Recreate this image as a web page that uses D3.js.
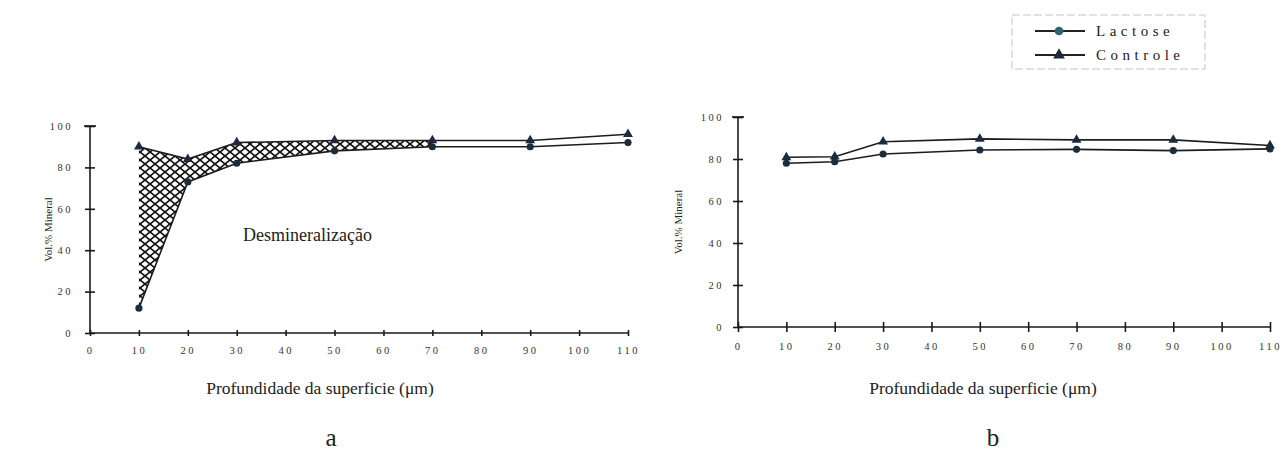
<!DOCTYPE html>
<html lang="pt">
<head>
<meta charset="UTF-8" />
<title>Vol % Mineral</title>
<style>
  body { margin: 0; background: #fff; }
  text { font-family: "Liberation Serif", "DejaVu Serif", serif; fill: #222; }
  .tick text { font-size: 10.5px; letter-spacing: 2.5px; fill: #333; }
  .axis path, .axis line { stroke: #1a1a1a; stroke-width: 1.6; }
</style>
</head>
<body>
<div id="chart"></div>
<script src="https://d3js.org/d3.v7.min.js"></script>
<script>
// dados
const depth = [10, 20, 30, 50, 70, 90, 110]
const lactoseA = [12, 73, 82, 88, 90, 90, 92]
const controleA = [90, 84, 92, 93, 93, 93, 96]
const lactoseB = [78, 78.7, 82.4, 84.3, 84.6, 84, 84.8]
const controleB = [80.8, 81.1, 88.2, 89.6, 89.1, 89.1, 86.4]
const xTicks = [0, 10, 20, 30, 40, 50, 60, 70, 80, 90, 100, 110]
const yTicks = [0, 20, 40, 60, 80, 100]
const hatchUntil = 70
const seriesNames = ['Lactose', 'Controle']

const W = 1284, H = 454
const svg = d3.select('#chart').append('svg')
  .attr('width', W).attr('height', H)

// padrão de hachura cruzada
const defs = svg.append('defs')
const pat = defs.append('pattern')
  .attr('id', 'hatch')
  .attr('patternUnits', 'userSpaceOnUse')
  .attr('width', 10).attr('height', 8)
pat.append('path').attr('d', 'M0,0 L10,8 M-5,4 L0,8 M10,0 L15,4 M5,-4 L10,0 M0,8 L5,12')
  .attr('stroke', '#111').attr('stroke-width', 1.7).attr('fill', 'none')
pat.append('path').attr('d', 'M0,8 L10,0 M-5,4 L0,0 M10,8 L15,4 M5,12 L10,8 M0,0 L5,-4')
  .attr('stroke', '#111').attr('stroke-width', 1.7).attr('fill', 'none')

const triangle = d3.symbol().type(d3.symbolTriangle).size(42)
const circle = d3.symbol().type(d3.symbolCircle).size(40)

const drawPanel = (cfg) => {
  const x = d3.scaleLinear().domain([0, 110]).range(cfg.xr)
  const y = d3.scaleLinear().domain([0, 100]).range(cfg.yr)
  const g = svg.append('g')

  const lac = depth.map((d, i) => ({ x: d, v: cfg.lactose[i] }))
  const con = depth.map((d, i) => ({ x: d, v: cfg.controle[i] }))

  if (cfg.hatch) {
    const band = depth.map((d, i) => ({ x: d, lo: cfg.lactose[i], hi: cfg.controle[i] }))
      .filter(d => d.x <= hatchUntil)
    const area = d3.area().x(d => x(d.x)).y0(d => y(d.lo)).y1(d => y(d.hi))
    g.append('path').datum(band).attr('d', area).attr('fill', 'url(#hatch)')
  }

  // eixo Y
  const yAxis = d3.axisLeft(y).tickValues(yTicks).tickSize(5).tickPadding(cfg.yPad)
  const ya = g.append('g').attr('class', 'axis')
    .attr('transform', `translate(${cfg.xr[0]},0)`).call(yAxis)
  ya.select('.domain').attr('d', `M0,${cfg.yr[0]}V${cfg.yr[1]}`)
  ya.selectAll('.tick line').attr('x1', 5)
  ya.append('line').attr('x1', -6).attr('x2', 6)
    .attr('y1', y(100)).attr('y2', y(100))
    .attr('stroke', '#1a1a1a').attr('stroke-width', 1.6)

  // eixo X
  const xAxis = d3.axisBottom(x).tickValues(xTicks).tickSize(cfg.xTick).tickPadding(9)
  const xa = g.append('g').attr('class', 'axis')
    .attr('transform', `translate(0,${cfg.yr[0]})`).call(xAxis)
  xa.select('.domain').attr('d', `M${cfg.xr[0]},0H${cfg.xr[1]}`)
  xa.selectAll('.tick line').attr('y1', -cfg.xTick)
  xa.selectAll('.tick text').attr('dy', '0.9em')

  const line = d3.line().x(d => x(d.x)).y(d => y(d.v))
  g.append('path').datum(con).attr('d', line)
    .attr('fill', 'none').attr('stroke', '#1c1c1c').attr('stroke-width', 1.6)
  g.append('path').datum(lac).attr('d', line)
    .attr('fill', 'none').attr('stroke', '#1c1c1c').attr('stroke-width', 1.6)

  g.selectAll('.pc').data(con).join('path')
    .attr('transform', d => `translate(${x(d.x)},${y(d.v)})`)
    .attr('d', triangle).attr('fill', '#1e2a3c')
  g.selectAll('.pl').data(lac).join('path')
    .attr('transform', d => `translate(${x(d.x)},${y(d.v)})`)
    .attr('d', circle).attr('fill', '#1b2d3a')

  // textos
  g.append('text')
    .attr('transform', `translate(${cfg.titleX},${(cfg.yr[0] + cfg.yr[1]) / 2}) rotate(-90)`)
    .attr('text-anchor', 'middle').style('font-size', '11px')
    .text('Vol.% Mineral')
  g.append('text')
    .attr('x', cfg.xlabX).attr('y', 394)
    .attr('text-anchor', 'middle').style('font-size', '17.5px')
    .text('Profundidade da superficie (\u03bcm)')
  g.append('text')
    .attr('x', cfg.letterX).attr('y', 446)
    .attr('text-anchor', 'middle').style('font-size', '25px')
    .text(cfg.label)
  return { x, y, g }
}

const pa = drawPanel({ xr: [90, 628], yr: [333, 126], lactose: lactoseA, controle: controleA,
  hatch: true, xTick: 3, yPad: 12, titleX: 52, xlabX: 320, letterX: 331, label: 'a' })
pa.g.append('text').attr('x', 243).attr('y', 241)
  .style('font-size', '18px').text('Desmineralização')

drawPanel({ xr: [738, 1270], yr: [327, 117], lactose: lactoseB, controle: controleB,
  hatch: false, xTick: 5, yPad: 9, titleX: 682, xlabX: 983, letterX: 993, label: 'b' })

// legenda
const leg = svg.append('g').attr('transform', 'translate(1012,15)')
leg.append('rect').attr('width', 193).attr('height', 54)
  .attr('fill', 'none').attr('stroke', '#c4c4c4').attr('stroke-width', 1)
  .attr('stroke-dasharray', '8 3')
seriesNames.forEach((name, i) => {
  const row = leg.append('g').attr('transform', `translate(0,${16 + i * 24})`)
  row.append('line').attr('x1', 23).attr('x2', 73)
    .attr('stroke', '#222').attr('stroke-width', 2.2)
  row.append('path').attr('transform', 'translate(47,0)')
    .attr('d', i === 0 ? circle.size(60)() : triangle.size(60)())
    .attr('fill', i === 0 ? '#2a6670' : '#1e2a3c')
  row.append('text').attr('x', 84).attr('y', 5)
    .style('font-size', '15px').style('letter-spacing', '4.5px')
    .text(name)
})
</script>
</body>
</html>
